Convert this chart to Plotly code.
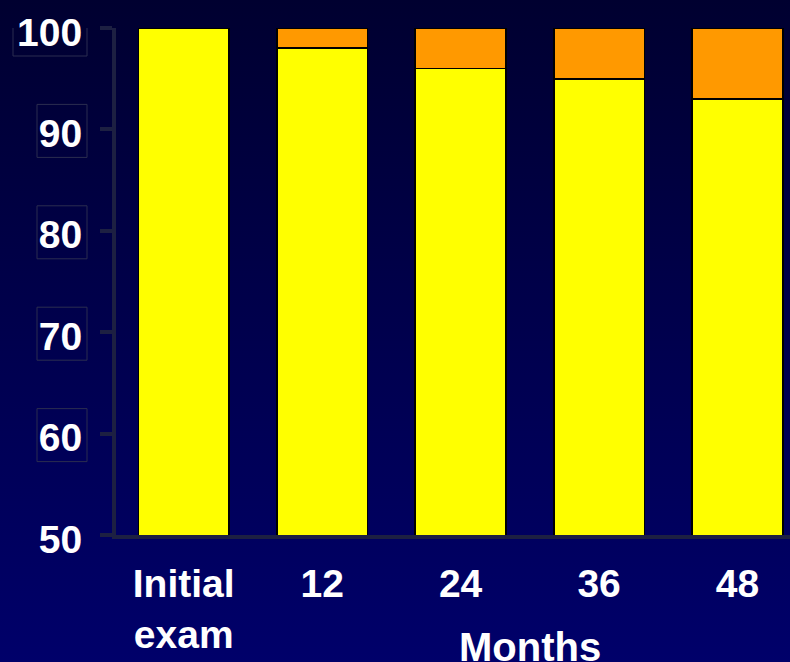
import base64
import plotly.graph_objects as go

# Share of patients by examination time
categories = ["Initial<br>exam", "12", "24", "36", "48"]
stable = [100, 98, 96, 95, 93]
progressed = [0, 2, 4, 5, 7]

y_ticks = [50, 60, 70, 80, 90, 100]
boxed_ticks = [60, 70, 80, 90, 100]

FONT = "Arial, Liberation Sans, sans-serif"
AXIS = "#1d2042"

fig = go.Figure()
fig.add_trace(go.Bar(
    x=categories, y=stable, marker=dict(color="#FFFF00", line=dict(color="#000000", width=1.6)),
    width=0.655, hoverinfo="skip",
))
fig.add_trace(go.Bar(
    x=categories, y=progressed, marker=dict(color="#FF9900", line=dict(color="#000000", width=1.6)),
    width=0.655, hoverinfo="skip",
))

# vertical navy gradient behind everything
svg = (
    '<svg xmlns="http://www.w3.org/2000/svg" width="10" height="100" preserveAspectRatio="none">'
    '<defs><linearGradient id="g" x1="0" y1="0" x2="0" y2="1">'
    '<stop offset="0" stop-color="#000030"/><stop offset="1" stop-color="#00006a"/>'
    '</linearGradient></defs><rect width="10" height="100" fill="url(#g)"/></svg>'
)
src = "data:image/svg+xml;base64," + base64.b64encode(svg.encode()).decode()

W, H = 790, 662
L, R, T, B = 116, 0, 28, 127
pw, ph = W - L - R, H - T - B

fig.add_layout_image(
    source=src, xref="paper", yref="paper",
    x=-L / pw, y=1 + T / ph, sizex=W / pw, sizey=H / ph,
    xanchor="left", yanchor="top", sizing="stretch", layer="below",
)

# thin frames around the y tick labels
for v in boxed_ticks:
    n = len(str(v))
    fig.add_shape(
        type="rect", xref="paper", yref="y",
        xsizemode="pixel", xanchor=0, x0=-31 - 24 * n, x1=-29,
        ysizemode="pixel", yanchor=v, y0=-28, y1=25,
        line=dict(color="#2b2d50", width=1), fillcolor="rgba(0,0,0,0)", layer="above",
    )

fig.add_annotation(
    text="<b>Months</b>", xref="x", yref="paper", x=2.5, y=0,
    xanchor="center", yanchor="top", yshift=-88, showarrow=False,
    font=dict(family=FONT, size=40, color="white"),
)

fig.update_layout(
    width=W, height=H, barmode="stack", showlegend=False, bargap=0.35,
    margin=dict(l=L, r=R, t=T, b=B),
    paper_bgcolor="#000050", plot_bgcolor="rgba(0,0,0,0)",
    font=dict(family=FONT, color="white"),
)
fig.update_xaxes(
    type="category", range=[-0.489, 4.379], showgrid=False, zeroline=False,
    showline=True, linecolor=AXIS, linewidth=4, ticks="",
    tickfont=dict(family=FONT, size=39, color="white", weight="bold"),
    ticklabelstandoff=11, fixedrange=True,
)
fig.update_yaxes(
    range=[50, 100], tickvals=y_ticks, showgrid=False, zeroline=False,
    showline=True, linecolor=AXIS, linewidth=4,
    ticks="outside", ticklen=12, tickwidth=4, tickcolor=AXIS,
    tickfont=dict(family=FONT, size=39, color="white", weight="bold"),
    ticklabelstandoff=10, ticklabelshift=4, fixedrange=True,
)

fig.write_html("out.html", config={"displayModeBar": False})
